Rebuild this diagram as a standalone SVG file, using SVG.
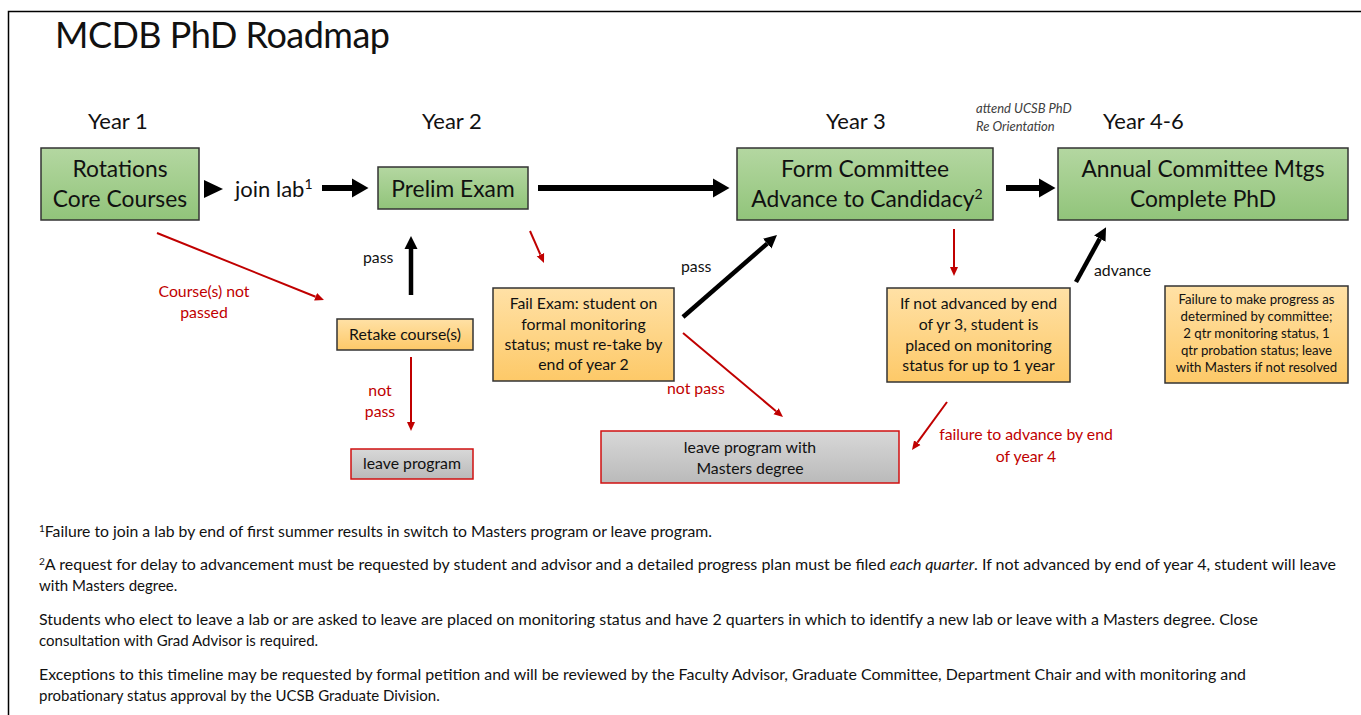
<svg xmlns="http://www.w3.org/2000/svg" width="1361" height="715" viewBox="0 0 1361 715">
<style>
text{font-family:Lato,"Open Sans","Liberation Sans",sans-serif;fill:#111}
.big{font-size:22.8px}
.yr{font-size:22px}
.mid{font-size:15.8px}
.sm{font-size:13.2px}
.foot{font-size:15px}
.red{fill:#c00000}
.c{text-anchor:middle}
.g{fill:url(#gGreen);stroke:#333;stroke-width:1.5}
.o{fill:url(#gOrange);stroke:#333;stroke-width:1.5}
.x{fill:url(#gGray);stroke:#d01010;stroke-width:1.5}
.bl{stroke:#000;fill:none}
.rl{stroke:#c00000;stroke-width:2;fill:none;marker-end:url(#mRed)}
</style>
<defs>
<linearGradient id="gGreen" x1="0" y1="0" x2="0" y2="1"><stop offset="0" stop-color="#b4d7a1"/><stop offset="1" stop-color="#91c47a"/></linearGradient>
<linearGradient id="gOrange" x1="0" y1="0" x2="0" y2="1"><stop offset="0" stop-color="#ffe1a6"/><stop offset="1" stop-color="#fdc968"/></linearGradient>
<linearGradient id="gGray" x1="0" y1="0" x2="0" y2="1"><stop offset="0" stop-color="#d8d8d8"/><stop offset="1" stop-color="#bababa"/></linearGradient>
<marker id="mBig" markerUnits="userSpaceOnUse" markerWidth="17" markerHeight="20" refX="0" refY="10" orient="auto"><path d="M0,0.5 L16.5,10 L0,19.5 z" fill="#000"/></marker>
<marker id="mSm" markerUnits="userSpaceOnUse" markerWidth="14" markerHeight="14" refX="0" refY="7" orient="auto"><path d="M0,0.5 L13,7 L0,13.5 z" fill="#000"/></marker>
<marker id="mRed" markerUnits="userSpaceOnUse" markerWidth="10" markerHeight="10" refX="0" refY="5" orient="auto"><path d="M0,1 L9,5 L0,9 z" fill="#c00000"/></marker>
</defs>
<rect x="0" y="0" width="1361" height="715" fill="#fff"/>
<rect x="8.5" y="11.5" width="1400" height="800" fill="none" stroke="#000" stroke-width="1.5"/>
<text x="55" y="48" font-size="36" textLength="335">MCDB PhD Roadmap</text>
<g id="year-labels">
<text class="yr" x="88" y="129">Year 1</text>
<text class="yr" x="422" y="129">Year 2</text>
<text class="yr" x="826" y="129">Year 3</text>
<text class="yr" x="1103" y="129">Year 4-6</text>
<text x="976" y="113" font-size="13" font-style="italic" style="fill:#404040">attend UCSB PhD</text>
<text x="976" y="131" font-size="13" font-style="italic" style="fill:#404040">Re Orientation</text>
</g>
<g id="connectors">
<path d="M204,180 L223,189 L204,198 z" fill="#000"/>
<text class="yr" x="235" y="197">join lab<tspan font-size="14" dy="-8">1</tspan></text>
<line class="bl" x1="322" y1="188" x2="352" y2="188" stroke-width="6" marker-end="url(#mBig)"/>
<line class="bl" x1="538" y1="188" x2="713" y2="188" stroke-width="6" marker-end="url(#mBig)"/>
<line class="bl" x1="1006" y1="188" x2="1039" y2="188" stroke-width="6" marker-end="url(#mBig)"/>
<line class="bl" x1="411" y1="295" x2="411" y2="249" stroke-width="4.5" marker-end="url(#mSm)"/>
<line class="bl" x1="683" y1="317" x2="767.2" y2="243.6" stroke-width="4.5" marker-end="url(#mSm)"/>
<line class="bl" x1="1076" y1="282" x2="1099.8" y2="238.6" stroke-width="4.5" marker-end="url(#mSm)"/>
<text class="mid" x="363" y="263">pass</text>
<text class="mid" x="681" y="272">pass</text>
<text class="mid" x="1094" y="276">advance</text>
<line class="rl" x1="157" y1="233" x2="315.6" y2="296.7"/>
<line class="rl" x1="530" y1="231" x2="540.4" y2="254.7"/>
<line class="rl" x1="411" y1="357" x2="411" y2="422"/>
<line class="rl" x1="683" y1="333" x2="776.1" y2="411.2"/>
<line class="rl" x1="954" y1="229" x2="954" y2="267"/>
<line class="rl" x1="947" y1="402" x2="917.3" y2="442.7"/>
<text class="mid red c" x="204" y="297">Course(s) not</text>
<text class="mid red c" x="204" y="318">passed</text>
<text class="mid red c" x="380" y="396">not</text>
<text class="mid red c" x="380" y="417">pass</text>
<text class="mid red" x="667" y="394">not pass</text>
<text class="mid red c" x="1026" y="440">failure to advance by end</text>
<text class="mid red c" x="1026" y="462">of year 4</text>
</g>
<g id="rotations">
<rect class="g" x="41" y="148" width="158" height="72"/>
<text class="big c" x="120" y="177">Rotations</text>
<text class="big c" x="120" y="207">Core Courses</text>
</g>
<g id="prelim">
<rect class="g" x="378" y="167" width="150" height="42"/>
<text class="big c" x="453" y="197">Prelim Exam</text>
</g>
<g id="form-committee">
<rect class="g" x="737" y="148" width="256" height="72"/>
<text class="big c" x="865" y="177">Form Committee</text>
<text class="big c" x="867" y="207">Advance to Candidacy<tspan font-size="14" dy="-8">2</tspan></text>
</g>
<g id="annual">
<rect class="g" x="1058" y="148" width="290" height="72"/>
<text class="big c" x="1203" y="177">Annual Committee Mtgs</text>
<text class="big c" x="1203" y="207">Complete PhD</text>
</g>
<g id="retake">
<rect class="o" x="337" y="319" width="136" height="31"/>
<text class="mid c" x="405" y="340">Retake course(s)</text>
</g>
<g id="fail-exam">
<rect class="o" x="493" y="288" width="181" height="93"/>
<text class="mid c" x="583.5" y="309">Fail Exam: student on</text>
<text class="mid c" x="583.5" y="330">formal monitoring</text>
<text class="mid c" x="583.5" y="350">status; must re-take by</text>
<text class="mid c" x="583.5" y="370">end of year 2</text>
</g>
<g id="not-advanced">
<rect class="o" x="887" y="288" width="183" height="94"/>
<text class="mid c" x="978.5" y="309">If not advanced by end</text>
<text class="mid c" x="978.5" y="330">of yr 3, student is</text>
<text class="mid c" x="978.5" y="351">placed on monitoring</text>
<text class="mid c" x="978.5" y="371">status for up to 1 year</text>
</g>
<g id="failure-progress">
<rect class="o" x="1165" y="286" width="183" height="97"/>
<text class="sm c" x="1256.5" y="304">Failure to make progress as</text>
<text class="sm c" x="1256.5" y="321">determined by committee;</text>
<text class="sm c" x="1256.5" y="338">2 qtr monitoring status, 1</text>
<text class="sm c" x="1256.5" y="355">qtr probation status; leave</text>
<text class="sm c" x="1256.5" y="372">with Masters if not resolved</text>
</g>
<g id="leave-program">
<rect class="x" x="351" y="449" width="122" height="30"/>
<text class="mid c" x="412" y="469">leave program</text>
</g>
<g id="leave-masters">
<rect class="x" x="601" y="431" width="298" height="52"/>
<text class="mid c" x="750" y="453">leave program with</text>
<text class="mid c" x="750" y="474">Masters degree</text>
</g>
<g id="footnotes">
<text class="foot" x="39" y="537" textLength="673" lengthAdjust="spacingAndGlyphs"><tspan font-size="9.5" dy="-5">1</tspan><tspan dy="5">Failure to join a lab by end of first summer results in switch to Masters program or leave program.</tspan></text>
<text class="foot" x="39" y="570" textLength="1297" lengthAdjust="spacingAndGlyphs"><tspan font-size="9.5" dy="-5">2</tspan><tspan dy="5">A request for delay to advancement must be requested by student and advisor and a detailed progress plan must be filed </tspan><tspan font-style="italic">each quarter</tspan>. If not advanced by end of year 4, student will leave</text>
<text class="foot" x="39" y="591">with Masters degree.</text>
<text class="foot" x="39" y="625" textLength="1219" lengthAdjust="spacingAndGlyphs">Students who elect to leave a lab or are asked to leave are placed on monitoring status and  have 2 quarters in which to identify a new lab or leave with a Masters degree. Close</text>
<text class="foot" x="39" y="646">consultation with Grad Advisor is required.</text>
<text class="foot" x="39" y="680" textLength="1207" lengthAdjust="spacingAndGlyphs">Exceptions to this timeline may be requested by formal petition and will be reviewed by the Faculty Advisor, Graduate Committee, Department Chair and with monitoring and</text>
<text class="foot" x="39" y="701">probationary status approval by the UCSB Graduate Division.</text>
</g>
</svg>
